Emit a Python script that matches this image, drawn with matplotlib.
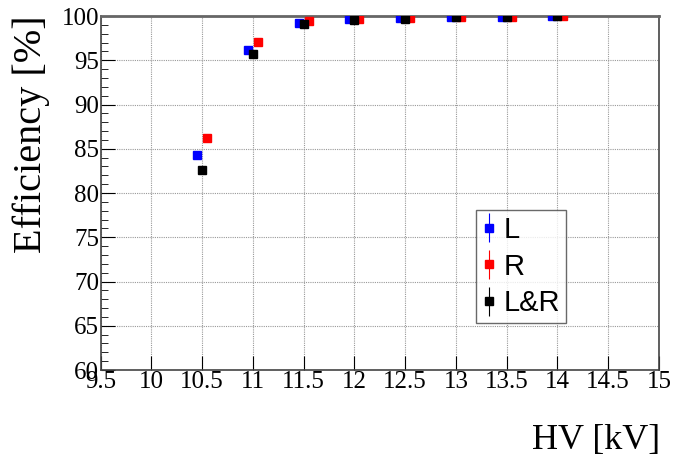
import numpy as np
import matplotlib
matplotlib.use("Agg")
import matplotlib.pyplot as plt
from matplotlib.ticker import MultipleLocator

hv = np.array([10.5, 11.0, 11.5, 12.0, 12.5, 13.0, 13.5, 14.0])
eff_l = np.array([84.3, 96.2, 99.2, 99.7, 99.8, 99.9, 99.9, 100.0])
eff_r = np.array([86.2, 97.1, 99.4, 99.7, 99.8, 99.9, 99.9, 100.0])
eff_lr = np.array([82.6, 95.75, 99.1, 99.6, 99.7, 99.9, 99.9, 100.0])
err_l = np.array([0.4, 0.2, 0.1, 0.05, 0.05, 0.03, 0.03, 0.02])
err_r = np.array([0.4, 0.2, 0.1, 0.05, 0.05, 0.03, 0.03, 0.02])
err_lr = np.array([0.5, 0.25, 0.1, 0.06, 0.05, 0.03, 0.03, 0.02])
tick_labels = ["9.5", "10", "10.5", "11", "11.5", "12", "12.5", "13",
               "13.5", "14", "14.5", "15"]
shift = 0.05

serif = ["Liberation Serif", "DejaVu Serif"]

fig = plt.figure(figsize=(6.79, 4.65), dpi=100)
ax = fig.add_axes([100.5 / 679, 1 - 370 / 465, 558.5 / 679, 354 / 465])

ax.errorbar(hv - shift, eff_l, yerr=err_l, fmt="s", color="blue", ms=6,
            elinewidth=0.8, capsize=0, label="L", zorder=3)
ax.errorbar(hv + shift, eff_r, yerr=err_r, fmt="s", color="red", ms=6,
            elinewidth=0.8, capsize=0, label="R", zorder=3)
ax.errorbar(hv, eff_lr, yerr=err_lr, fmt="s", color="black", ms=6,
            elinewidth=0.8, capsize=0, label="L&R", zorder=4)

ax.set_xlim(9.5, 15)
ax.set_ylim(60, 100)
ax.yaxis.set_major_locator(MultipleLocator(5))
ax.yaxis.set_minor_locator(MultipleLocator(1))
ax.set_xticks(np.arange(9.5, 15.01, 0.5))
ax.set_xticklabels(tick_labels)
ax.tick_params(axis="both", which="both", direction="in", top=False, right=False)
ax.tick_params(axis="y", which="major", length=10, pad=1)
ax.tick_params(axis="y", which="minor", length=5)
ax.tick_params(axis="x", which="major", length=10, pad=1)
for lab in ax.get_xticklabels() + ax.get_yticklabels():
    lab.set_fontfamily(serif)
    lab.set_fontsize(18)

ax.grid(True, which="major", color="#999999", linestyle=(0, (1, 1)), linewidth=0.8)
for s in ax.spines.values():
    s.set_color("#444444")
    s.set_linewidth(1.2)
ax.spines["top"].set_color("#666666")
ax.spines["top"].set_linewidth(2)

fig.text(31.5 / 679, 1 - 15 / 465, "Efficiency [%]", rotation=90, ha="center",
         va="top", fontsize=29, family=serif)
fig.text(660 / 679, 1 - 457 / 465, "HV [kV]", ha="right", va="bottom",
         fontsize=26, family=serif)

leg = ax.legend(loc="upper left", bbox_to_anchor=(476 / 679, 1 - 210 / 465),
                bbox_transform=fig.transFigure,
                frameon=True, fancybox=False, edgecolor="#444444",
                handlelength=0.5, handletextpad=0.25, labelspacing=0.3,
                borderpad=0.2, borderaxespad=0,
                prop={"family": ["Liberation Sans", "DejaVu Sans"], "size": 21})
leg.get_frame().set_linewidth(1.0)

fig.savefig("out.png", dpi=100)
